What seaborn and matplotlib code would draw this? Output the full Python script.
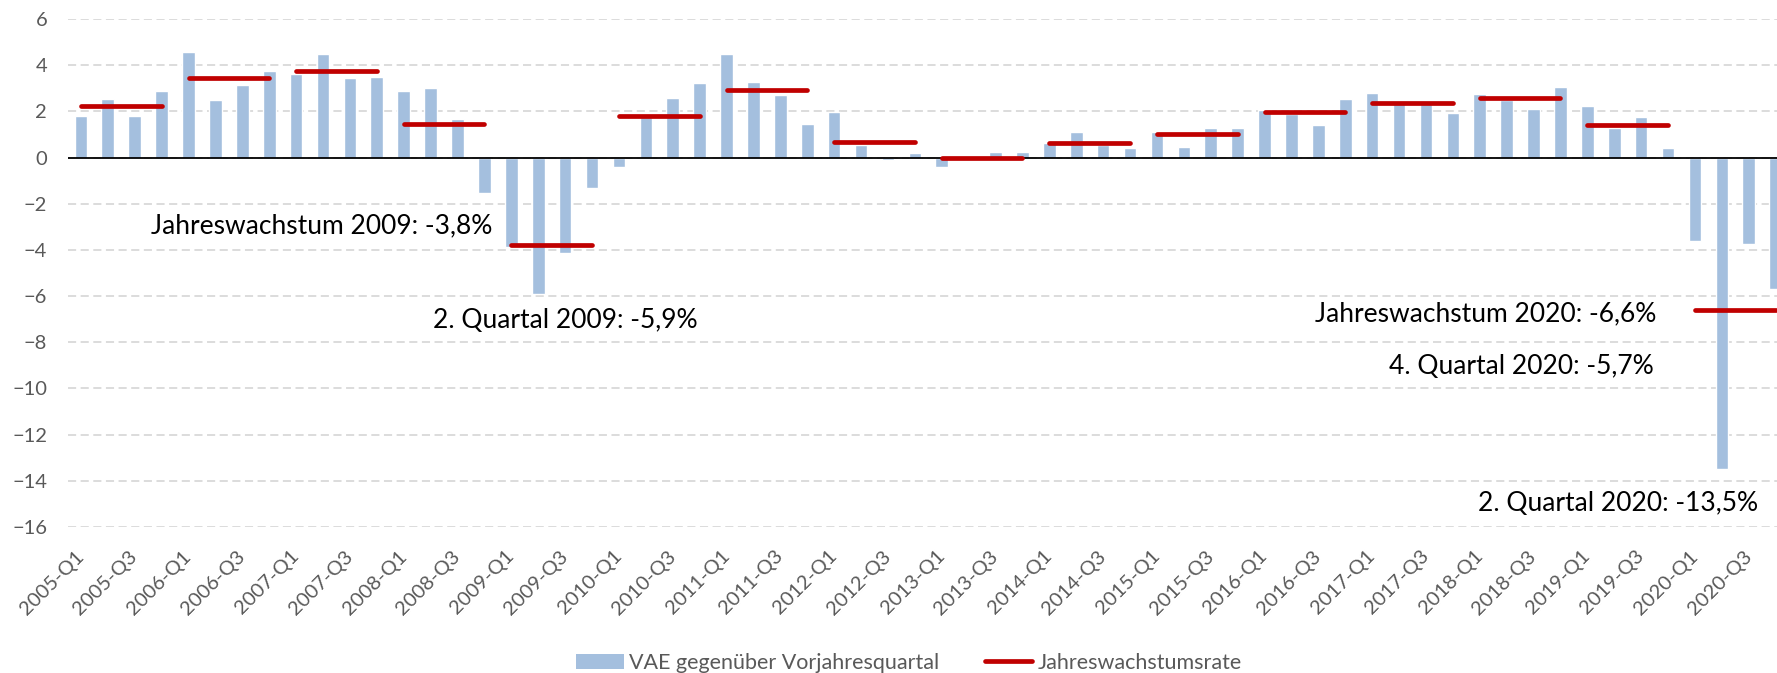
import numpy as np
import pandas as pd
import matplotlib
matplotlib.use("Agg")
import matplotlib.pyplot as plt
from matplotlib.patches import Patch
from matplotlib.lines import Line2D
import seaborn as sns

# quarters 2005-Q1 .. 2020-Q4
years = list(range(2005, 2021))
quarters = [f"{y}-Q{q}" for y in years for q in range(1, 5)]

# VAE gegenueber Vorjahresquartal (in %)
vae = [1.81, 2.53, 1.81, 2.88,
       4.55, 2.50, 3.15, 3.76,
       3.62, 4.50, 3.43, 3.50,
       2.89, 3.02, 1.66, -1.55,
       -3.86, -5.9, -4.12, -1.34,
       -0.40, 1.75, 2.57, 3.21,
       4.48, 3.29, 2.71, 1.45,
       1.99, 0.55, -0.12, 0.20,
       -0.41, 0.03, 0.25, 0.26,
       0.62, 1.12, 0.55, 0.42,
       1.12, 0.45, 1.28, 1.29,
       2.07, 1.90, 1.41, 2.52,
       2.80, 2.35, 2.30, 1.91,
       2.75, 2.50, 2.12, 3.06,
       2.22, 1.30, 1.75, 0.42,
       -3.63, -13.5, -3.76, -5.7]

# Jahreswachstumsrate (in %)
annual = [2.24, 3.44, 3.73, 1.45, -3.8, 1.82, 2.93, 0.67,
          0.0, 0.64, 1.0, 1.98, 2.38, 2.57, 1.40, -6.6]

annotations = [
    ("Jahreswachstum 2009: -3,8%", 15.28, -2.97, "right"),
    ("2. Quartal 2009: -5,9%", 13.1, -7.05, "left"),
    ("Jahreswachstum 2020: -6,6%", 58.55, -6.75, "right"),
    ("4. Quartal 2020: -5,7%", 58.45, -9.06, "right"),
    ("2. Quartal 2020: -13,5%", 62.35, -14.98, "right"),
]

bar_color = "#A4BFDE"
red = "#C00000"
grey = "#595959"

sns.set_style("white")
plt.rcParams["font.family"] = ["Lato", "DejaVu Sans"]

df_bars = pd.DataFrame({"quartal": quarters, "vae": vae})
df_lines = pd.DataFrame({
    "pos": np.arange(len(quarters)),
    "year": np.repeat(years, 4),
    "rate": np.repeat(annual, 4),
})

fig = plt.figure(figsize=(17.77, 6.73), dpi=100)
ax = fig.add_axes([68 / 1777, 1 - 527 / 673, (1777 - 68) / 1777, (527 - 19) / 673])

sns.barplot(data=df_bars, x="quartal", y="vae", color=bar_color, saturation=1,
            width=0.47, ax=ax, zorder=2)
ax.axhline(0, color="black", lw=1.3, zorder=3)
sns.lineplot(data=df_lines, x="pos", y="rate", units="year", estimator=None,
             color=red, lw=3.4, solid_capstyle="round", ax=ax, zorder=4,
             legend=False)

ax.set_xlim(-0.48, 63.05)
ax.set_ylim(-16, 6)
ax.set_yticks(range(-16, 7, 2))
ax.set_xticks(range(0, 64, 2))
ax.set_xticklabels(quarters[::2], rotation=45, ha="right", va="center",
                   rotation_mode="anchor")
ax.tick_params(axis="both", length=0, labelsize=14.5, labelcolor=grey)
ax.tick_params(axis="y", pad=15)
ax.tick_params(axis="x", pad=19)
ax.yaxis.grid(True, color="#D9D9D9", linestyle=(0, (4.5, 2.5)), lw=1.3)
ax.xaxis.grid(False)
ax.set_axisbelow(True)
for s in ax.spines.values():
    s.set_visible(False)
ax.set_xlabel("")
ax.set_ylabel("")

for txt, x, y, ha in annotations:
    ax.text(x, y, txt, ha=ha, va="center", fontsize=19, color="black", zorder=5)

handles = [Patch(facecolor=bar_color, edgecolor="none"),
           Line2D([0], [0], color=red, lw=3.4, solid_capstyle="round")]
fig.legend(handles, ["VAE gegenüber Vorjahresquartal", "Jahreswachstumsrate"],
           loc="center", bbox_to_anchor=(909 / 1777, 1 - 663 / 673), ncol=2,
           frameon=False, fontsize=15.5, labelcolor=grey, handlelength=2.2,
           handleheight=0.7, handletextpad=0.25, columnspacing=2.1)

fig.savefig("out.png", dpi=100)
